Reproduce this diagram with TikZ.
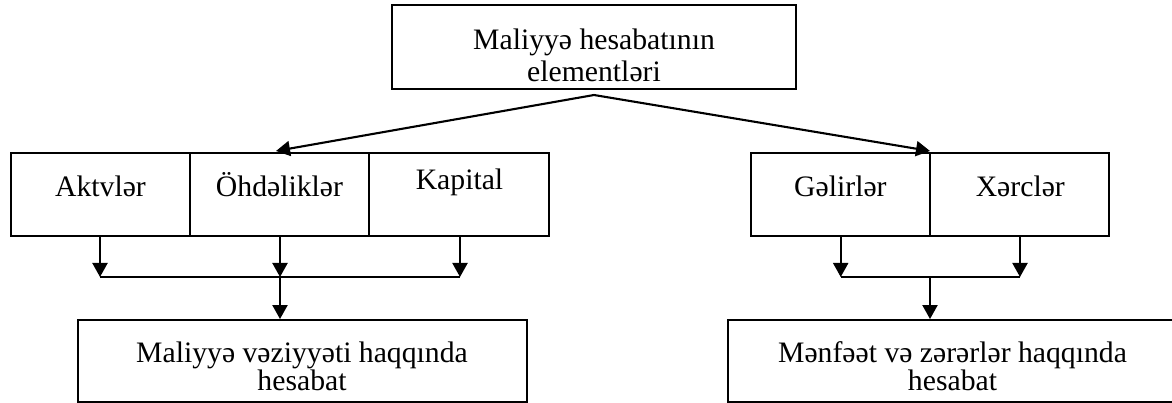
\documentclass[tikz,border=0pt]{standalone}
\usepackage{fontspec}
\setmainfont{Liberation Serif}
\usetikzlibrary{arrows.meta}
\begin{document}
\begin{tikzpicture}[x=1pt,y=-1pt,
  box/.style={draw, line width=1.9pt, rectangle, inner sep=0pt},
  txt/.style={anchor=base, inner sep=0pt, font=\fontsize{29.7}{32}\selectfont},
  arr/.style={line width=2.1pt, -{Triangle[width=15pt,length=14pt]}},
  ln/.style={line width=2.1pt}]
\useasboundingbox (0,0) rectangle (1172,403);
\clip (0,0) rectangle (1172,403);
% top box
\node[box, minimum width=404pt, minimum height=84pt] (top) at (594,47) {};
\node[txt] (t1) at (594,50) {Maliyyə hesabatının};
\node[txt] (t2) at (594,82) {elementləri};
% left row
\node[box, minimum width=179.3pt, minimum height=83pt] (akt) at (100.35,194.5) {};
\node[box, minimum width=179.3pt, minimum height=83pt] (ohd) at (279.65,194.5) {};
\node[box, minimum width=180pt, minimum height=83pt] (kap) at (459.3,194.5) {};
\node[txt] (takt) at (100.5,196.7) {Aktvlər};
\node[txt] (tohd) at (279.5,196.7) {Öhdəliklər};
\node[txt] (tkap) at (459.5,190) {Kapital};
% right row
\node[box, minimum width=179.3pt, minimum height=83pt] (gel) at (840.35,194.5) {};
\node[box, minimum width=179pt, minimum height=83pt] (xer) at (1019.5,194.5) {};
\node[txt] (tgel) at (840.4,196.7) {Gəlirlər};
\node[txt] (txer) at (1020.3,196.7) {Xərclər};
% bottom boxes
\node[box, minimum width=449pt, minimum height=82pt] (bl) at (302.2,361) {};
\node[txt] (bl1) at (302,362.7) {Maliyyə vəziyyəti haqqında};
\node[txt] (bl2) at (302,390) {hesabat};
\node[box, minimum width=449pt, minimum height=82pt] (br) at (952.5,361) {};
\node[txt] (br1) at (952.5,362.7) {Mənfəət və zərərlər haqqında};
\node[txt] (br2) at (952.5,390) {hesabat};
% connectors from top
\coordinate (apex) at (594,95);
\coordinate (tl) at (276,151);
\coordinate (tr) at (930,151);
\draw[arr] (apex) -- (tl);
\draw[arr] (apex) -- (tr);
% left merge
\coordinate (la) at (100,277);
\coordinate (lb) at (280,277);
\coordinate (lc) at (460,277);
\draw[arr] (akt.south -| la) -- (la);
\draw[arr] (ohd.south -| lb) -- (lb);
\draw[arr] (kap.south -| lc) -- (lc);
\draw[ln] (la) -- (lc);
\draw[arr] (lb) -- (bl.north -| lb);
% right merge
\coordinate (ra) at (840.7,277);
\coordinate (rb) at (1020,277);
\coordinate (rm) at (930,277);
\draw[arr] (gel.south -| ra) -- (ra);
\draw[arr] (xer.south -| rb) -- (rb);
\draw[ln] (ra) -- (rb);
\draw[arr] (rm) -- (br.north -| rm);
\end{tikzpicture}
\end{document}
